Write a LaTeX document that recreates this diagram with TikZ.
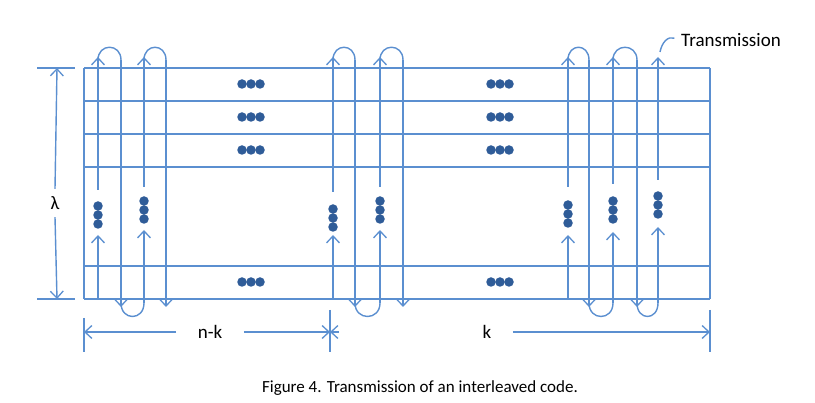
\documentclass[tikz,border=0pt]{standalone}
\usepackage{fontspec}
\setmainfont{Carlito}
\usetikzlibrary{arrows.meta}
\definecolor{ln}{HTML}{5B8FD0}
\definecolor{dt}{HTML}{2F5C98}
\begin{document}
\begin{tikzpicture}[x=1pt,y=-1pt,
  ln/.style={draw=ln,line width=1.4pt},
  arr/.style={ln,-{Straight Barb[length=7pt,width=13pt,line width=1.3pt]}},
  dot/.style={circle,fill=dt,inner sep=0pt,minimum size=9.5pt},
  lbl/.style={font=\fontsize{19}{22}\selectfont,text=black}]
\useasboundingbox (0,0) rectangle (815,403);
% grid
\foreach \y in {68,101,134,167,266,299}{\draw[ln] (84,\y) -- (710,\y);}
\draw[ln] (84,68) -- (84,299);
\draw[ln] (710,68) -- (710,299);
% row dots
\foreach \y in {84,117,150,282}{
  \foreach \cx in {251,500}{
    \foreach \d in {-9,0,9}{\node[dot] at (\cx+\d,\y) {};}}}
\newcommand{\upcol}[5]{%
  \draw[arr] (#1,#2) -- (#1,#3);
  \foreach \d in {-9,0,9}{\node[dot] at (#1,#4+\d) {};}
  \draw[arr] (#1,#5) -- (#1,57);}
\newcommand{\toploop}[2]{\draw[ln] (#1,57) -- (#1,60) .. controls (#1,43) and (#2,43) .. (#2,60);}
\newcommand{\downcol}[1]{\draw[arr] (#1,60) -- (#1,307);}
\newcommand{\botloop}[2]{\draw[ln] (#1,303) .. controls (#1,321) and (#2,321) .. (#2,303);}
% left group
\upcol{98}{299}{235}{215}{190}
\toploop{98}{121}\downcol{121}\botloop{121}{144}
\upcol{144}{303}{230}{210}{187}
\toploop{144}{166}\downcol{166}
% middle group
\upcol{333}{299}{235}{218}{192}
\toploop{333}{355}\downcol{355}\botloop{355}{380}
\upcol{380}{303}{230}{210}{187}
\toploop{380}{403}\downcol{403}
% right group
\upcol{568}{299}{235}{214}{187}
\toploop{568}{589}\downcol{589}\botloop{589}{613}
\upcol{613}{303}{232}{210}{184}
\toploop{613}{637}\downcol{637}\botloop{637}{658}
\upcol{658}{303}{227}{205}{180}
% transmission label
\node[lbl,anchor=west,inner sep=1pt] (tr) at (680,40) {Transmission};
\draw[ln,shorten >=6pt] (660,52) .. controls (662,42) and (668,36) .. (tr.west);
% lambda dimension
\draw[ln] (37,68) -- (75,68);
\draw[ln] (37,299) -- (75,299);
\node[lbl] (lam) at (55,203) {λ};
\draw[arr] (lam.north) ++(0,-4) -- (57,68);
\draw[arr] (lam.south) ++(0,4) -- (57,299);
% bottom dimension
\draw[ln] (84,318) -- (84,352);
\draw[ln] (330,310) -- (330,352);
\draw[ln] (710,310) -- (710,352);
\node[lbl] (nk) at (210,332) {n-k};
\node[lbl] (k) at (487,332) {k};
\draw[arr] (nk.west) ++(-18,0) -- (84,332);
\draw[arr] (nk.east) ++(18,0) -- (330,332);
\draw[arr] (k.west) ++(-140,0) -- (330,332);
\draw[arr] (k.east) ++(18,0) -- (710,332);
% caption
\node[font=\fontsize{17}{20}\selectfont] (cap) at (420,388) {Figure 4. Transmission of an interleaved code.};
\end{tikzpicture}
\end{document}
